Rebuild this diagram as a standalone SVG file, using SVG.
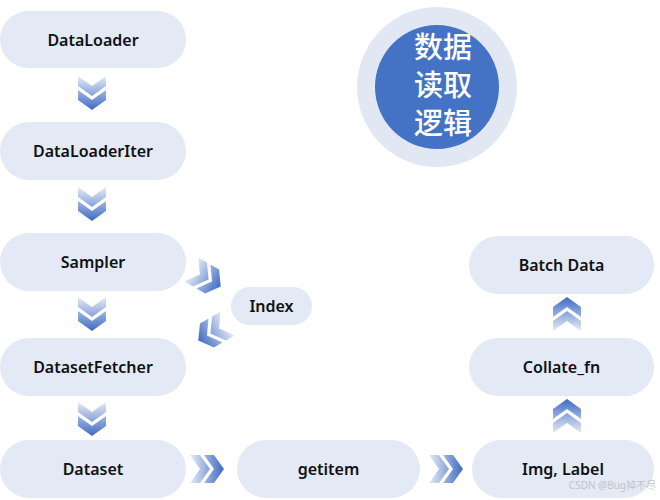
<svg xmlns="http://www.w3.org/2000/svg" width="660" height="500" viewBox="0 0 660 500">
<defs>
<linearGradient id="g" x1="0" y1="0" x2="0" y2="1"><stop offset="0" stop-color="#e6ebf6"/><stop offset="1" stop-color="#3f6bc4"/></linearGradient>
<path id="dn" fill="url(#g)" d="M-14,-17 L0,-7 L14,-17 L14,-7 L0,3 L-14,-7Z M-14,-3 L0,7 L14,-3 L14,7 L0,17 L-14,7Z"/>
<style>
.p{fill:#e3e9f5}
.t{font-family:"Noto Sans","Noto Sans CJK SC",sans-serif;font-weight:600;font-size:16px;fill:#111;text-anchor:middle;dominant-baseline:central}
.c{font-family:"Noto Sans CJK SC",sans-serif;font-weight:500;font-size:29px;fill:#fff;text-anchor:middle}
</style>
</defs>
<g id="title"><circle cx="437" cy="87" r="80" fill="#e1e7f3"/><circle cx="437" cy="87" r="62" fill="#4472c4"/>
<text class="c" x="443" y="58">数据</text><text class="c" x="443" y="96">读取</text><text class="c" x="443" y="134">逻辑</text></g>
<g id="n1"><rect class="p" x="0" y="11" width="186" height="57" rx="28.5"/><text class="t" x="93" y="39.5">DataLoader</text></g>
<g id="n2"><rect class="p" x="0" y="122" width="186" height="58" rx="29"/><text class="t" x="93" y="151">DataLoaderIter</text></g>
<g id="n3"><rect class="p" x="0" y="233" width="186" height="58" rx="29"/><text class="t" x="93" y="262">Sampler</text></g>
<g id="n4"><rect class="p" x="231" y="287" width="81" height="38" rx="19"/><text class="t" x="271.5" y="306">Index</text></g>
<g id="n5"><rect class="p" x="0" y="338" width="186" height="58" rx="29"/><text class="t" x="93" y="367">DatasetFetcher</text></g>
<g id="n6"><rect class="p" x="0" y="440" width="186" height="58" rx="29"/><text class="t" x="93" y="469">Dataset</text></g>
<g id="n7"><rect class="p" x="237" y="440" width="183" height="58" rx="29"/><text class="t" x="328.5" y="469">getitem</text></g>
<g id="n8"><rect class="p" x="472" y="440" width="182" height="58" rx="29"/><text class="t" x="563" y="469">Img, Label</text></g>
<g id="n9"><rect class="p" x="469" y="338" width="185" height="58" rx="29"/><text class="t" x="561.5" y="367">Collate_fn</text></g>
<g id="n10"><rect class="p" x="469" y="236" width="185" height="58" rx="29"/><text class="t" x="561.5" y="265">Batch Data</text></g>
<g id="connectors">
<use href="#dn" transform="translate(92,93)"/>
<use href="#dn" transform="translate(92,204)"/>
<use href="#dn" transform="translate(92,314)"/>
<use href="#dn" transform="translate(92,419)"/>
<use href="#dn" transform="translate(207,469) rotate(-90)"/>
<use href="#dn" transform="translate(446,469) rotate(-90)"/>
<use href="#dn" transform="translate(567,416) rotate(180)"/>
<use href="#dn" transform="translate(567,314) rotate(180)"/>
<use href="#dn" transform="translate(206,278) rotate(-60)"/>
<use href="#dn" transform="translate(213,332) rotate(60)"/>
</g>
<text x="656" y="489" font-family="Noto Sans,Noto Sans CJK SC,sans-serif" font-size="10" fill="#bbb" text-anchor="end" opacity="0.8">CSDN @Bug掉不尽</text>
</svg>
